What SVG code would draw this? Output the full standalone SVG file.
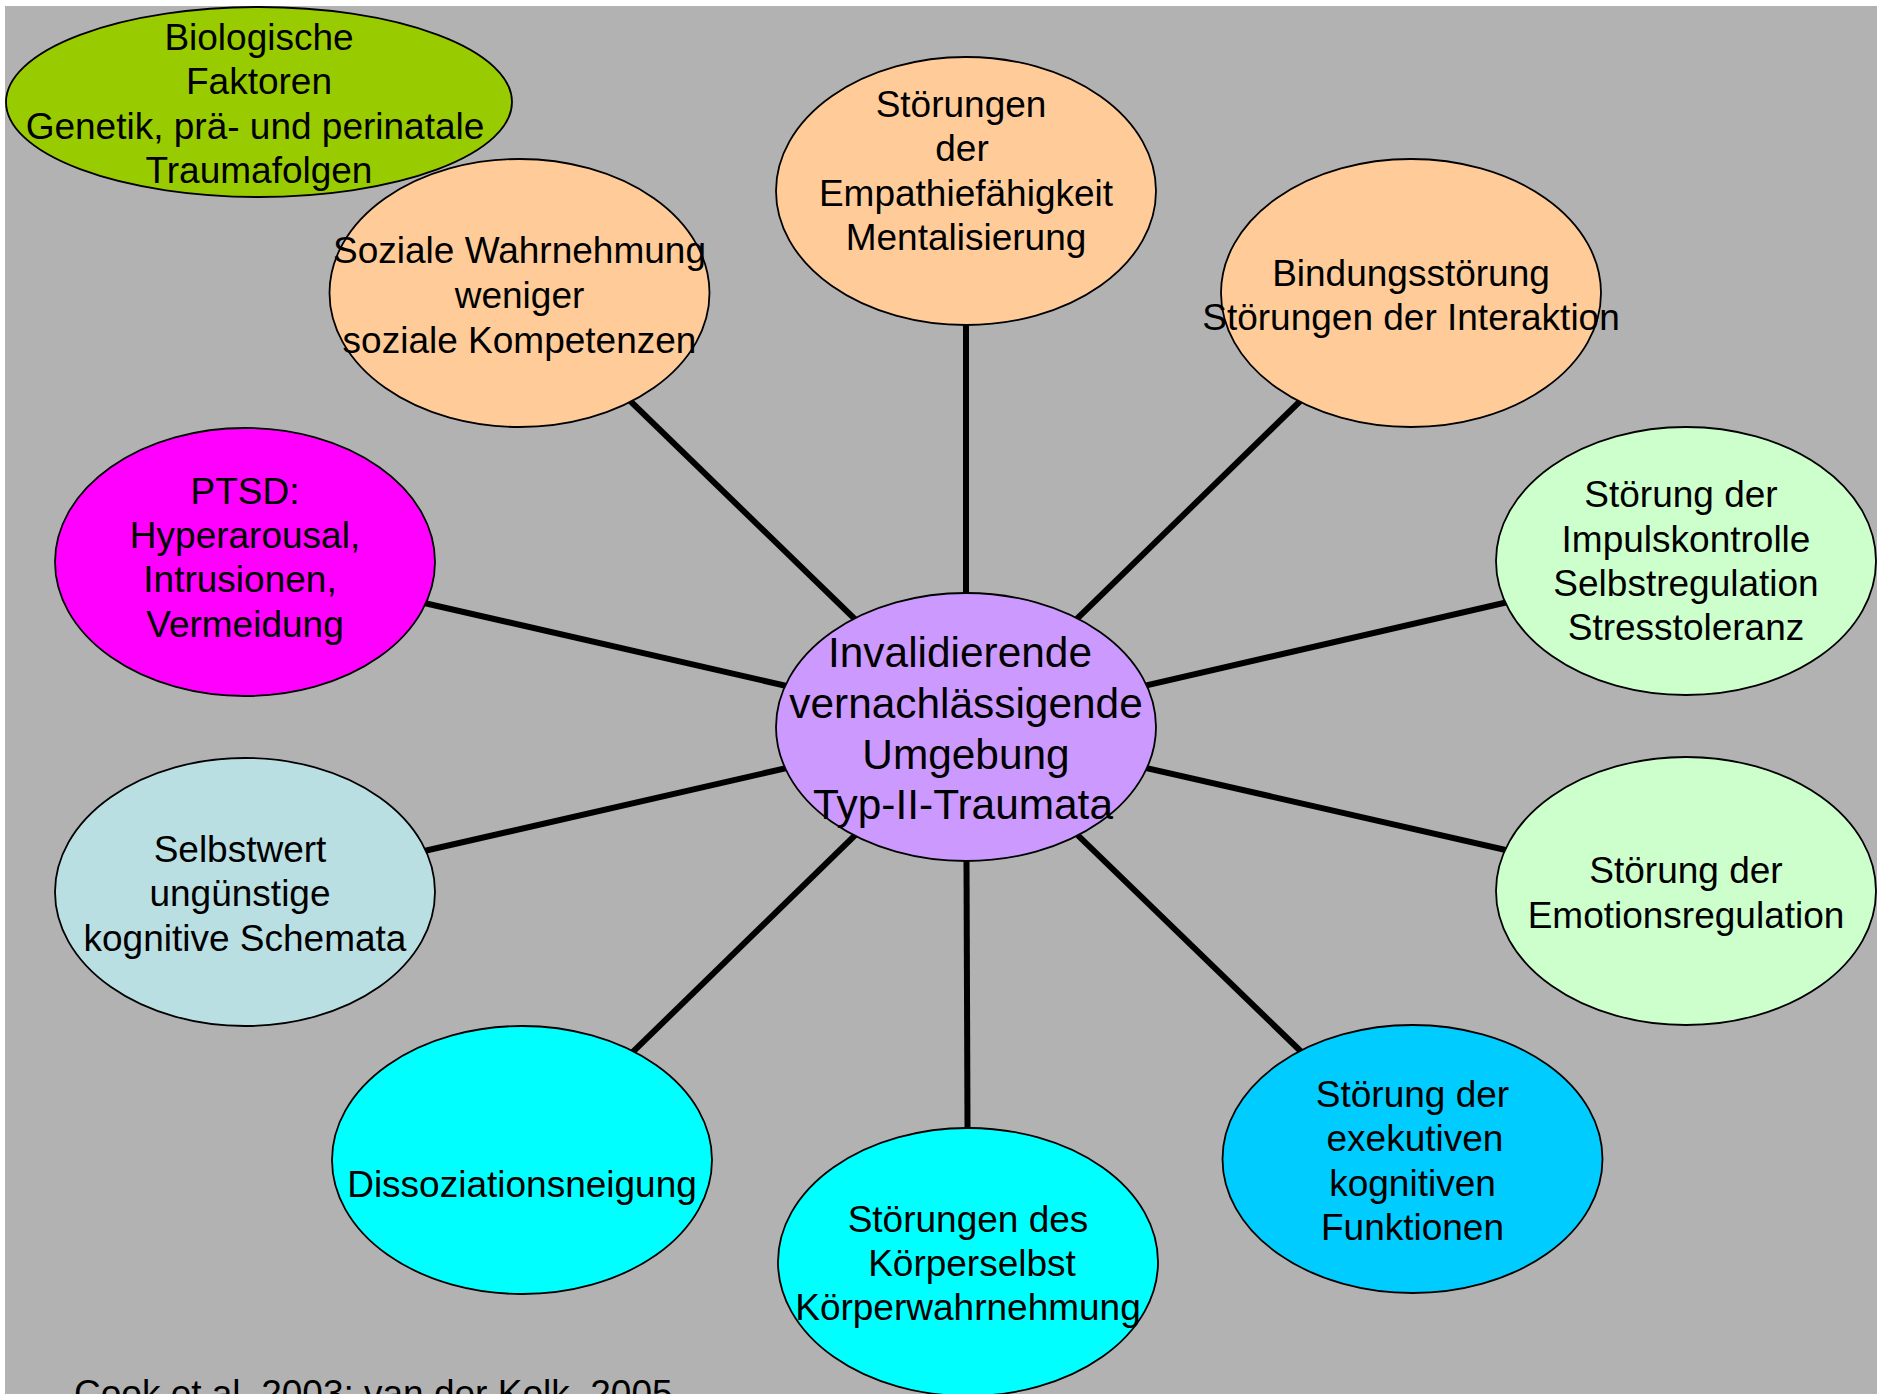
<svg xmlns="http://www.w3.org/2000/svg" width="1877" height="1394" viewBox="0 0 1877 1394">
<style>
.n{stroke:#000;stroke-width:1.8}
.t{font-family:"Liberation Sans",Arial,sans-serif;font-size:37px;fill:#000;text-anchor:middle}
.c{font-size:42.4px}
.e{stroke:#000;stroke-width:6}
</style>
<rect width="1877" height="1394" fill="#fff"/>
<rect x="5" y="6" width="1872" height="1388" fill="#B2B2B2"/>
<g id="connectors">
<line class="e" x1="966" y1="727" x2="966" y2="191"/>
<line class="e" x1="966" y1="727" x2="968" y2="1262"/>
<line class="e" x1="966" y1="727" x2="519" y2="293"/>
<line class="e" x1="966" y1="727" x2="1411" y2="293"/>
<line class="e" x1="966" y1="727" x2="245" y2="562"/>
<line class="e" x1="966" y1="727" x2="1686" y2="561"/>
<line class="e" x1="966" y1="727" x2="245" y2="892"/>
<line class="e" x1="966" y1="727" x2="1686" y2="891"/>
<line class="e" x1="966" y1="727" x2="522" y2="1160"/>
<line class="e" x1="966" y1="727" x2="1412" y2="1159"/>
</g>
<g id="bio">
<ellipse class="n" cx="259" cy="102" rx="253" ry="95" fill="#99CC00"/>
<text class="t"><tspan x="259" y="50">Biologische</tspan><tspan x="259" y="94">Faktoren</tspan><tspan x="255" y="139">Genetik, prä- und perinatale</tspan><tspan x="259" y="183">Traumafolgen</tspan></text>
</g>
<g id="empathie">
<ellipse class="n" cx="966" cy="191" rx="190" ry="134" fill="#FFCC99"/>
<text class="t"><tspan x="961" y="117">Störungen</tspan><tspan x="962" y="161">der</tspan><tspan x="966" y="206">Empathiefähigkeit</tspan><tspan x="966" y="250">Mentalisierung</tspan></text>
</g>
<g id="soziale">
<ellipse class="n" cx="519.5" cy="293" rx="190" ry="134" fill="#FFCC99"/>
<text class="t"><tspan x="519.5" y="263">Soziale Wahrnehmung</tspan><tspan x="519.5" y="308">weniger</tspan><tspan x="519.5" y="353">soziale Kompetenzen</tspan></text>
</g>
<g id="bindung">
<ellipse class="n" cx="1411" cy="293" rx="190" ry="134" fill="#FFCC99"/>
<text class="t"><tspan x="1411" y="286">Bindungsstörung</tspan><tspan x="1411" y="330">Störungen der Interaktion</tspan></text>
</g>
<g id="ptsd">
<ellipse class="n" cx="245" cy="562" rx="190" ry="134" fill="#FF00FF"/>
<text class="t"><tspan x="245" y="504">PTSD:</tspan><tspan x="245" y="548">Hyperarousal,</tspan><tspan x="240" y="592">Intrusionen,</tspan><tspan x="245" y="637">Vermeidung</tspan></text>
</g>
<g id="impuls">
<ellipse class="n" cx="1686" cy="561" rx="190" ry="134" fill="#CCFFCC"/>
<text class="t"><tspan x="1681" y="507">Störung der</tspan><tspan x="1686" y="552">Impulskontrolle</tspan><tspan x="1686" y="596">Selbstregulation</tspan><tspan x="1686" y="640">Stresstoleranz</tspan></text>
</g>
<g id="center">
<ellipse class="n" cx="966" cy="727" rx="190" ry="134" fill="#CC99FF"/>
<text class="t c"><tspan x="960" y="667">Invalidierende</tspan><tspan x="966" y="718">vernachlässigende</tspan><tspan x="966" y="769">Umgebung</tspan><tspan x="963" y="819">Typ-II-Traumata</tspan></text>
</g>
<g id="selbstwert">
<ellipse class="n" cx="245" cy="892" rx="190" ry="134" fill="#B9DFE3"/>
<text class="t"><tspan x="240" y="862">Selbstwert</tspan><tspan x="240" y="906">ungünstige</tspan><tspan x="245" y="951">kognitive Schemata</tspan></text>
</g>
<g id="emotion">
<ellipse class="n" cx="1686" cy="891" rx="190" ry="134" fill="#CCFFCC"/>
<text class="t"><tspan x="1686" y="883">Störung der</tspan><tspan x="1686" y="928">Emotionsregulation</tspan></text>
</g>
<g id="dissoziation">
<ellipse class="n" cx="522" cy="1160" rx="190" ry="134" fill="#00FFFF"/>
<text class="t"><tspan x="522" y="1197">Dissoziationsneigung</tspan></text>
</g>
<g id="exekutiv">
<ellipse class="n" cx="1412.5" cy="1159" rx="190" ry="134" fill="#00CCFF"/>
<text class="t"><tspan x="1412.5" y="1107">Störung der</tspan><tspan x="1415" y="1151">exekutiven</tspan><tspan x="1412.5" y="1196">kognitiven</tspan><tspan x="1412.5" y="1240">Funktionen</tspan></text>
</g>
<g id="koerper">
<ellipse class="n" cx="968" cy="1262" rx="190" ry="134" fill="#00FFFF"/>
<text class="t"><tspan x="968" y="1232">Störungen des</tspan><tspan x="972" y="1276">Körperselbst</tspan><tspan x="968" y="1320">Körperwahrnehmung</tspan></text>
</g>
<text class="t" style="text-anchor:start" x="74" y="1406">Cook et al. 2003; van der Kolk, 2005</text>
</svg>
